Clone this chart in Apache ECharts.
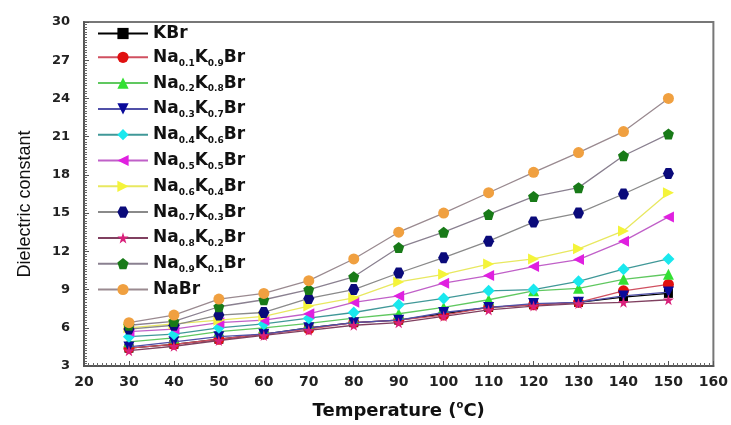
<!DOCTYPE html>
<html><head><meta charset="utf-8">
<script src="https://cdn.jsdelivr.net/npm/echarts@6/dist/echarts.min.js"></script>
<style>html,body{margin:0;padding:0;background:#fff}#c{width:731px;height:425px}</style>
</head><body><div id="c"></div>
<script>
const temperatures = [30, 40, 50, 60, 70, 80, 90, 100, 110, 120, 130, 140, 150];
const seriesNames = ['KBr','Na0.1K0.9Br','Na0.2K0.8Br','Na0.3K0.7Br','Na0.4K0.6Br','Na0.5K0.5Br','Na0.6K0.4Br','Na0.7K0.3Br','Na0.8K0.2Br','Na0.9K0.1Br','NaBr'];
const legendLabels = ['KBr','Na{s|0.1}K{s|0.9}Br','Na{s|0.2}K{s|0.8}Br','Na{s|0.3}K{s|0.7}Br','Na{s|0.4}K{s|0.6}Br','Na{s|0.5}K{s|0.5}Br','Na{s|0.6}K{s|0.4}Br','Na{s|0.7}K{s|0.3}Br','Na{s|0.8}K{s|0.2}Br','Na{s|0.9}K{s|0.1}Br','NaBr'];
const kbr    = [4.4, 4.7, 5.1, 5.5, 6.0, 6.4, 6.6, 7.1, 7.6, 7.8, 8.0, 8.4, 8.7];
const na01   = [4.4, 4.7, 5.1, 5.5, 5.9, 6.4, 6.6, 7.0, 7.6, 7.8, 8.0, 8.9, 9.4];
const na02   = [4.9, 5.2, 5.7, 6.0, 6.35, 6.75, 7.1, 7.6, 8.2, 8.9, 9.1, 9.8, 10.2];
const na03   = [4.5, 4.9, 5.3, 5.5, 6.0, 6.4, 6.6, 7.2, 7.6, 7.9, 8.0, 8.5, 8.8];
const na04   = [5.3, 5.5, 6.0, 6.3, 6.75, 7.2, 7.8, 8.3, 8.9, 9.0, 9.65, 10.6, 11.4];
const na05   = [5.7, 5.9, 6.4, 6.6, 7.1, 8.0, 8.5, 9.5, 10.1, 10.8, 11.35, 12.8, 14.7];
const na06   = [6.0, 6.3, 6.6, 6.9, 7.7, 8.35, 9.6, 10.2, 11.0, 11.4, 12.2, 13.6, 16.6];
const na07   = [5.9, 6.2, 7.0, 7.2, 8.3, 9.0, 10.3, 11.5, 12.8, 14.3, 15.0, 16.5, 18.1];
const na08   = [4.2, 4.55, 5.0, 5.4, 5.8, 6.2, 6.4, 6.9, 7.4, 7.7, 7.9, 8.0, 8.2];
const na09   = [6.2, 6.5, 7.65, 8.2, 9.0, 10.0, 12.3, 13.5, 14.9, 16.3, 17.0, 19.5, 21.2];
const nabr   = [6.4, 7.0, 8.25, 8.7, 9.7, 11.4, 13.5, 15.0, 16.6, 18.2, 19.75, 21.4, 24.0];
const allValues = [kbr, na01, na02, na03, na04, na05, na06, na07, na08, na09, nabr];
const xTicks = [20,30,40,50,60,70,80,90,100,110,120,130,140,150,160];
const yTicks = [3,6,9,12,15,18,21,24,27,30];

const markerColors = ['#000000','#e01010','#33e033','#0a0a9a','#19e8ee','#e020e0','#f4f43a','#0a0a7a','#d8207a','#187a18','#f0a040'];
const lineColors   = ['#000000','#d05060','#60c860','#5050a8','#409898','#c060c8','#e8e860','#8a8a8a','#804060','#8a8090','#9a8a90'];
const symbols = ['rect','circle','triangle','triangle','diamond','triangle','triangle',
  'path://M25,0 L75,0 L100,50 L75,100 L25,100 L0,50 Z','path://M50,0 L61,35 L98,35 L68,57 L79,91 L50,70 L21,91 L32,57 L2,35 L39,35 Z',
  'path://M50,0 L98,35 L79,91 L21,91 L2,35 Z','circle'];
const rotates = [0,0,0,180,0,90,-90,0,0,0,0];

const chart = echarts.init(document.getElementById('c'), null, {renderer:'canvas'});
const series = seriesNames.map((n,i)=>({
  name:n, type:'line',
  data: temperatures.map((t,j)=>[t, allValues[i][j]]),
  symbol: symbols[i], symbolRotate: rotates[i], symbolSize: i===0?9:(i===4?12:11),
  lineStyle:{color:lineColors[i], width:1.3},
  itemStyle:{color:markerColors[i]},
  z: 2+i
}));
const fam = '"Liberation Sans", Arial, sans-serif';
const bfam = '"DejaVu Sans", sans-serif';
chart.setOption({
  animation:false,
  backgroundColor:'#fff',
  grid:{left:84, right:13, top:22, bottom:57, show:true, borderColor:'#777', borderWidth:2},
  legend:{
    orient:'vertical', left:92, top:20, itemWidth:50, itemHeight:14, itemGap:6.8,
    data: seriesNames,
    formatter: function(name){ return legendLabels[seriesNames.indexOf(name)]; },
    textStyle:{fontFamily:bfam, fontSize:17, fontWeight:'bold', color:'#111',
      rich:{ s:{fontFamily:bfam, fontSize:9, fontWeight:'bold', color:'#111', padding:[12,0,0,0]} } }
  },
  xAxis:{
    type:'value', min:20, max:160, interval:10,
    name:'Temperature ({o|o}C)', nameLocation:'middle', nameGap:34,
    nameTextStyle:{fontFamily:bfam, fontSize:18, fontWeight:'bold', color:'#111',
      rich:{o:{fontFamily:bfam, fontSize:10, fontWeight:'bold', color:'#111', padding:[0,0,12,0]}}},
    axisLine:{lineStyle:{color:'#555', width:2}},
    axisTick:{inside:true, length:5, lineStyle:{color:'#555'}},
    minorTick:{show:true, splitNumber:10, length:3, lineStyle:{color:'#666'}},
    splitLine:{show:false},
    axisLabel:{fontFamily:bfam, fontSize:14, fontWeight:'bold', color:'#222', margin:9}
  },
  yAxis:{
    type:'value', min:3, max:30, interval:3,
    name:'Dielectric constant', nameLocation:'middle', nameGap:50,
    nameTextStyle:{fontFamily:fam, fontSize:18, color:'#111', padding:[0,20,0,0]},
    axisLine:{lineStyle:{color:'#555', width:2}},
    axisTick:{inside:true, length:5, lineStyle:{color:'#555'}},
    minorTick:{show:true, splitNumber:15, length:3, lineStyle:{color:'#666'}},
    splitLine:{show:false},
    axisLabel:{fontFamily:bfam, fontSize:13, fontWeight:'bold', color:'#222', margin:14}
  },
  series: series
});
</script></body></html>
